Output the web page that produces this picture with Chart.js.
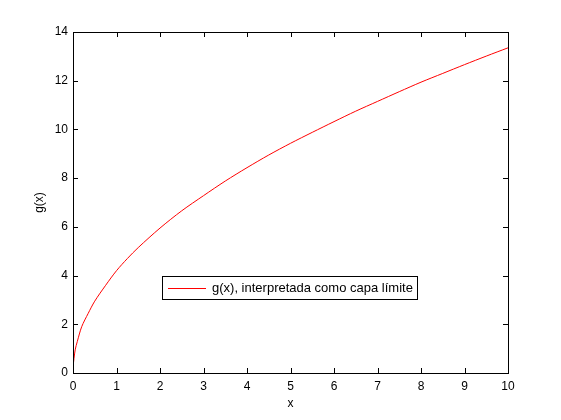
<!DOCTYPE html>
<html>
<head>
<meta charset="utf-8">
<script src="https://cdn.jsdelivr.net/npm/chart.js@4.4.1/dist/chart.umd.min.js"></script>
<style>
  html, body { margin: 0; padding: 0; background: #fff; }
  #wrap { width: 561px; height: 420px; }
</style>
</head>
<body>
<div id="wrap"><canvas id="gChart"></canvas></div>
<script>
// values
const xValues = [0, 0.05, 0.1, 0.2, 0.35, 0.5, 0.75, 1, 1.25, 1.5, 2, 2.5, 3, 3.5, 4, 4.5, 5, 5.5, 6, 6.5, 7, 7.5, 8, 8.5, 9, 9.5, 10];
const gValues = [0.25, 0.95, 1.3, 1.9, 2.45, 2.95, 3.6, 4.2, 4.7, 5.15, 5.95, 6.66, 7.28, 7.88, 8.43, 8.95, 9.43, 9.88, 10.32, 10.75, 11.15, 11.55, 11.94, 12.3, 12.66, 13.01, 13.35];
const xTicks = [0, 1, 2, 3, 4, 5, 6, 7, 8, 9, 10];
const yTicks = [0, 2, 4, 6, 8, 10, 12, 14];
const seriesLabel = 'g(x), interpretada como capa límite';

const FONT = '"Liberation Sans", Arial, Helvetica, sans-serif';

// box around the plot + inward tick marks, matlab style
const boxTicks = {
    id: 'boxTicks',
    afterDraw(chart) {
        const { ctx, chartArea: a, scales } = chart;
        ctx.save();
        ctx.strokeStyle = '#000';
        ctx.lineWidth = 1;
        ctx.strokeRect(Math.round(a.left) + 0.5, Math.round(a.top) + 0.5,
            Math.round(a.right - a.left), Math.round(a.bottom - a.top));
        ctx.beginPath();
        xTicks.forEach(v => {
            const px = Math.round(scales.x.getPixelForValue(v)) + 0.5;
            ctx.moveTo(px, a.bottom); ctx.lineTo(px, a.bottom - 5);
            ctx.moveTo(px, a.top); ctx.lineTo(px, a.top + 5);
        });
        yTicks.forEach(v => {
            const py = Math.round(scales.y.getPixelForValue(v)) + 0.5;
            ctx.moveTo(a.left, py); ctx.lineTo(a.left + 5, py);
            ctx.moveTo(a.right, py); ctx.lineTo(a.right - 5, py);
        });
        ctx.stroke();
        ctx.restore();
    }
};

// legend box placed inside the axes
const boxLegend = {
    id: 'boxLegend',
    afterDraw(chart) {
        const { ctx } = chart;
        const ds = chart.data.datasets[0];
        const x = 162, y = 276, w = 255, h = 23;
        ctx.save();
        ctx.fillStyle = '#fff';
        ctx.fillRect(x, y, w, h);
        ctx.strokeStyle = '#000';
        ctx.lineWidth = 1;
        ctx.strokeRect(x + 0.5, y + 0.5, w, h);
        ctx.strokeStyle = ds.borderColor;
        ctx.beginPath();
        ctx.moveTo(168, y + 12.5);
        ctx.lineTo(206, y + 12.5);
        ctx.stroke();
        ctx.fillStyle = '#000';
        ctx.font = '13px ' + FONT;
        ctx.textBaseline = 'middle';
        ctx.fillText(ds.label, 212, y + 12);
        ctx.restore();
    }
};

new Chart(document.getElementById('gChart'), {
    type: 'line',
    data: {
        datasets: [{
            label: seriesLabel,
            data: xValues.map((v, i) => ({ x: v, y: gValues[i] })),
            borderColor: '#ff0000',
            borderWidth: 1,
            pointRadius: 0,
            tension: 0.3,
            fill: false
        }]
    },
    options: {
        responsive: true,
        maintainAspectRatio: false,
        animation: false,
        layout: { padding: { left: 0, top: 32, right: 53, bottom: 0 } },
        plugins: { legend: { display: false }, tooltip: { enabled: false } },
        scales: {
            x: {
                type: 'linear',
                min: 0,
                max: 10,
                afterBuildTicks: s => { s.ticks = xTicks.map(v => ({ value: v })); },
                afterFit: s => { s.height = 47; },
                grid: { display: false, drawTicks: false },
                border: { display: false },
                ticks: { color: '#000', padding: 6, maxRotation: 0, font: { family: FONT, size: 12 } },
                title: { display: true, text: 'x', color: '#000', padding: { top: 0, bottom: 9 }, font: { family: FONT, size: 12 } }
            },
            y: {
                min: 0,
                max: 14,
                afterBuildTicks: s => { s.ticks = yTicks.map(v => ({ value: v })); },
                afterFit: s => { s.width = 73; },
                grid: { display: false, drawTicks: false },
                border: { display: false },
                ticks: { color: '#000', padding: 5, font: { family: FONT, size: 12 } },
                title: { display: true, text: 'g(x)', color: '#000', padding: { top: 32, bottom: 0 }, font: { family: FONT, size: 12 } }
            }
        }
    },
    plugins: [boxTicks, boxLegend]
});
</script>
</body>
</html>
